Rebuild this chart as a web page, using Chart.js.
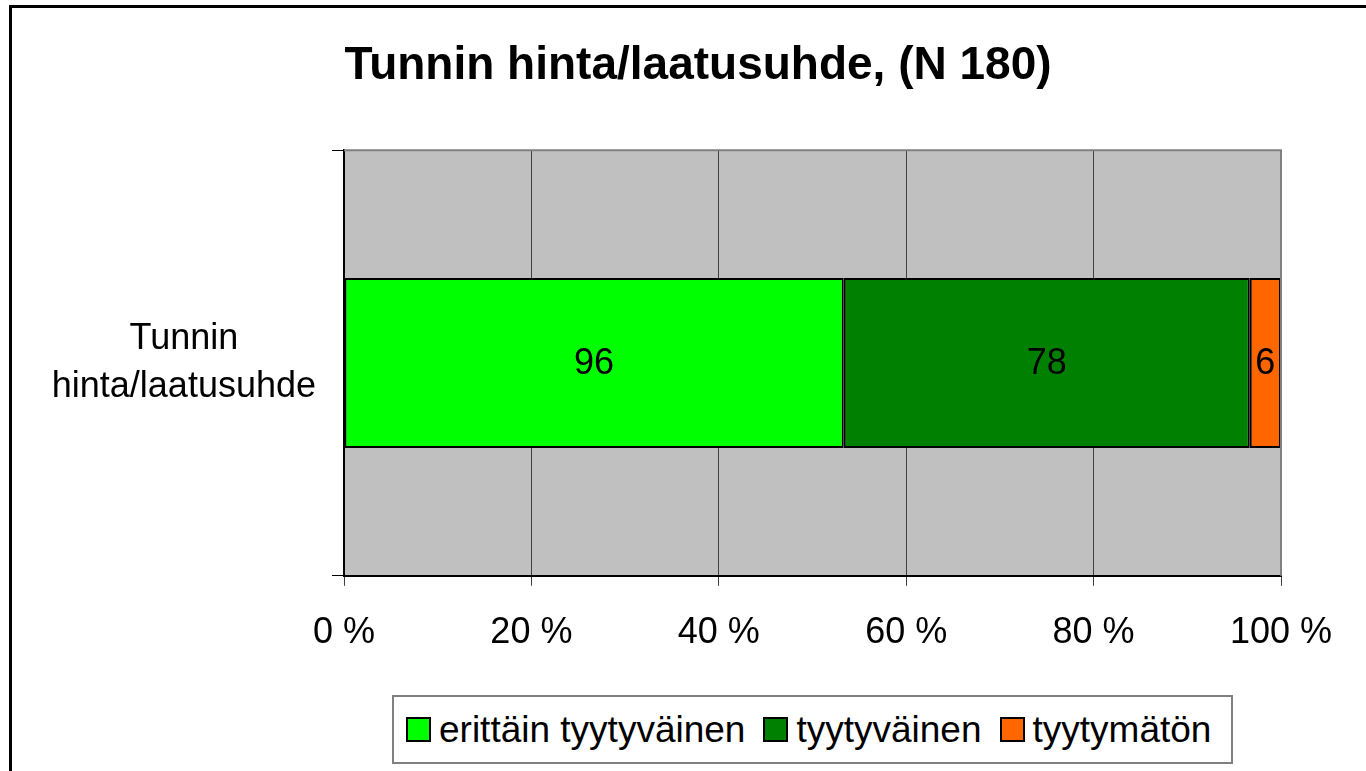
<!DOCTYPE html>
<html>
<head>
<meta charset="utf-8">
<script src="https://cdn.jsdelivr.net/npm/chart.js@4/dist/chart.umd.min.js"></script>
<style>
  html, body { margin: 0; padding: 0; background: #fff; overflow: hidden; }
  #wrap { position: relative; width: 1366px; height: 771px; }
  #frame { position: absolute; left: 9px; top: 5px; width: 1400px; height: 800px; border: 3px solid #000; box-sizing: border-box; pointer-events: none; }
  #legend { position: absolute; left: 392px; top: 695px; width: 841px; height: 69px; border: 2px solid #808080; box-sizing: border-box; padding-left: 12px;
            display: flex; align-items: center; justify-content: flex-start; font-family: "Liberation Sans", Arial, sans-serif; font-size: 37px; color: #000; background: #fff; }
  .item { display: flex; align-items: center; margin-right: 18px; white-space: nowrap; }
  .sw { width: 21px; height: 21px; border: 2px solid #000; margin-right: 8px; flex: none; }
  canvas { position: absolute; left: 0; top: 0; }
</style>
</head>
<body>
<div id="wrap">
  <canvas id="c" width="1366" height="771"></canvas>
  <div id="frame"></div>
  <div id="legend"></div>
</div>
<script>
const titleText = 'Tunnin hinta/laatusuhde, (N 180)';
const categories = [['Tunnin', 'hinta/laatusuhde']];
const seriesNames = ['erittäin tyytyväinen', 'tyytyväinen', 'tyytymätön'];
const seriesColors = ['#00FF00', '#008000', '#FF6600'];
const erittainTyytyvainen = [96];
const tyytyvainen = [78];
const tyytymaton = [6];
const xTicks = [0, 20, 40, 60, 80, 100];

const seriesValues = [erittainTyytyvainen, tyytyvainen, tyytymaton];
const totals = categories.map((_, i) => seriesValues.reduce((s, arr) => s + arr[i], 0));

const FONT = '"Liberation Sans", Arial, sans-serif';

const datasets = seriesValues.map((vals, k) => ({
  label: seriesNames[k],
  data: vals.map((v, i) => v / totals[i] * 100),
  raw: vals,
  backgroundColor: seriesColors[k],
  borderColor: '#000',
  borderWidth: 2,
  borderSkipped: false,
  barPercentage: 0.4,
  categoryPercentage: 1.0
}));

const plotBg = {
  id: 'plotBg',
  afterLayout(chart) {
    // title is centred over the whole chart in the reference, not only over the padded box
    if (chart.titleBlock) { chart.titleBlock.left = 30; chart.titleBlock.right = 1366; }
  },
  beforeDraw(chart) {
    const a = chart.chartArea, ctx = chart.ctx;
    ctx.save();
    ctx.fillStyle = '#C0C0C0';
    ctx.fillRect(a.left, a.top, a.right - a.left, a.bottom - a.top);
    ctx.restore();
  },
  afterDraw(chart) {
    const a = chart.chartArea, ctx = chart.ctx;
    ctx.save();
    ctx.strokeStyle = '#808080';
    ctx.lineWidth = 2;
    ctx.beginPath();
    ctx.moveTo(a.left, a.top);
    ctx.lineTo(a.right, a.top);
    ctx.lineTo(a.right, a.bottom);
    ctx.stroke();
    ctx.restore();
  }
};

const valueLabels = {
  id: 'valueLabels',
  afterDatasetsDraw(chart) {
    const ctx = chart.ctx;
    ctx.save();
    ctx.font = '36px ' + FONT;
    ctx.fillStyle = '#000';
    ctx.textAlign = 'center';
    ctx.textBaseline = 'middle';
    chart.data.datasets.forEach((ds, k) => {
      chart.getDatasetMeta(k).data.forEach((el, i) => {
        const cx = (el.x + el.base) / 2;
        ctx.fillText(String(ds.raw[i]), cx, el.y + 1);
      });
    });
    ctx.restore();
  }
};

new Chart(document.getElementById('c'), {
  type: 'bar',
  data: { labels: categories, datasets },
  plugins: [plotBg, valueLabels],
  options: {
    responsive: false,
    animation: false,
    indexAxis: 'y',
    layout: { padding: { top: 39, right: 85, bottom: 90, left: 0 } },
    plugins: {
      legend: { display: false },
      tooltip: { enabled: false },
      title: {
        display: true,
        text: titleText,
        color: '#000',
        font: { family: FONT, size: 46, weight: 'bold', lineHeight: 1.2 },
        padding: { top: 0, bottom: 56 }
      }
    },
    scales: {
      x: {
        stacked: true,
        min: 0, max: 100,
        afterBuildTicks(scale) { scale.ticks = xTicks.map(v => ({ value: v })); },
        ticks: {
          color: '#000',
          font: { family: FONT, size: 36, lineHeight: 1.2 },
          padding: 26,
          callback: v => v + ' %'
        },
        grid: { color: '#404040', lineWidth: 1, tickLength: 10, drawOnChartArea: true },
        border: { display: true, color: '#000', width: 2 }
      },
      y: {
        stacked: true,
        afterFit(scale) { scale.width = 344; },
        ticks: {
          color: '#000',
          crossAlign: 'center',
          font: { family: FONT, size: 36, lineHeight: 1.33 },
          padding: 16
        },
        grid: { display: true, offset: true, drawOnChartArea: false, color: '#000', tickLength: 12 },
        border: { display: true, color: '#000', width: 2 }
      }
    }
  }
});

const leg = document.getElementById('legend');
seriesNames.forEach((n, k) => {
  const it = document.createElement('div');
  it.className = 'item';
  const sw = document.createElement('div');
  sw.className = 'sw';
  sw.style.background = seriesColors[k];
  const t = document.createElement('span');
  t.textContent = n;
  it.appendChild(sw); it.appendChild(t);
  leg.appendChild(it);
});
</script>
</body>
</html>
